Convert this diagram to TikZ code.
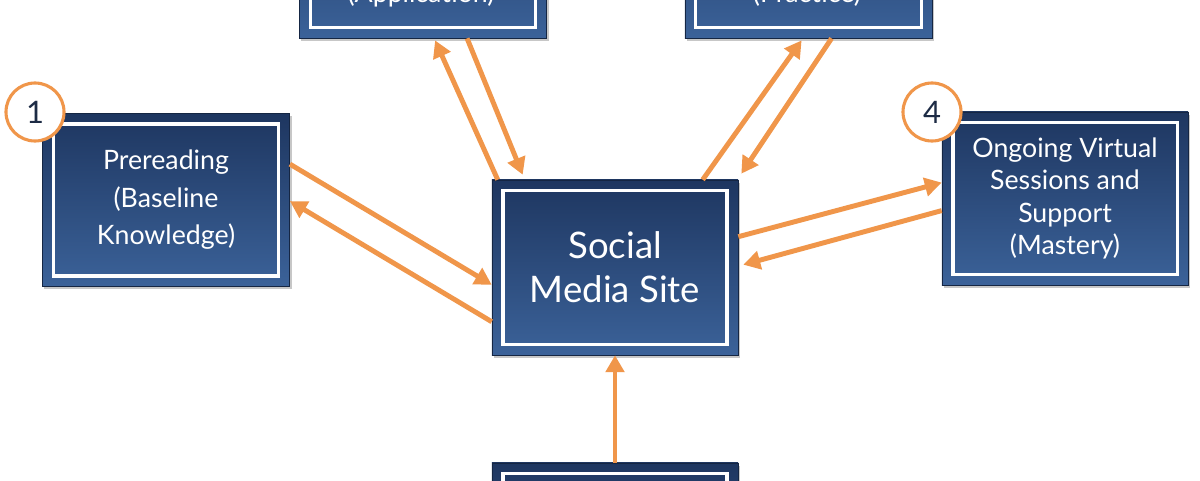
\documentclass[tikz,border=0pt]{standalone}
\usepackage{fontspec}
\setmainfont{Lato}
\usetikzlibrary{arrows.meta,shadows,calc}
\definecolor{navytop}{HTML}{1E3660}
\definecolor{navybot}{HTML}{3B6299}
\definecolor{orng}{HTML}{F0964A}
\definecolor{digit}{HTML}{1D2B45}
\begin{document}
\begin{tikzpicture}[x=0.025cm,y=-0.025cm,
  box/.style={rectangle, minimum width=6.18cm, minimum height=4.33cm, inner sep=0pt,
    top color=navytop, bottom color=navybot, draw=navytop!70!black, line width=0.4pt,
    drop shadow={shadow xshift=1.5pt,shadow yshift=-2pt,opacity=0.22,fill=black},
    path picture={\draw[white,line width=2.2pt]
      ([xshift=0.275cm,yshift=-0.265cm]path picture bounding box.north west) rectangle
      ([xshift=-0.275cm,yshift=0.265cm]path picture bounding box.south east);},
    text=white, align=center, font=\fontsize{19}{26.7}\selectfont},
  boxtext/.style={text=white, font=\fontsize{19}{26.7}\selectfont, inner sep=0pt},
  num/.style={circle, draw=orng, line width=2.2pt, fill=white, minimum size=1.45cm,
    inner sep=0pt, text=digit, font=\fontsize{22}{26}\selectfont},
  link/.style={draw=orng, line width=3.5pt, -{Triangle[length=12pt,width=13pt]}}]
\useasboundingbox (0,0) rectangle (1200,480);
\fill[white] (0,0) rectangle (1200,480);
\clip (0,0) rectangle (1200,480);

% boxes
\node[box] (t2) at (423,-48.5) {};
\node[boxtext, anchor=base] (t2txt) at (421,2) {(Application)};
\node[box] (t3) at (808.5,-48.5) {};
\node[boxtext, anchor=base] (t3txt) at (807,2) {(Practice)};
\node[box] (b1) at (166,200) {Prereading\\(Baseline\\Knowledge)};
\node[box, minimum width=6.15cm, font=\fontsize{19}{23.2}\selectfont] (b4) at (1065,198.5)
  {Ongoing Virtual\\Sessions and\\Support\\(Mastery)};
\node[box, minimum width=6.15cm, minimum height=4.375cm, font=\fontsize{26}{31.3}\selectfont] (c) at (615,267.5)
  {Social\\Media Site};
\node[box, minimum width=6.15cm] (b5) at (615,549.5) {};

% numbers
\node[num] (n1) at (35,112) {1};
\node[num] (n4) at (932,112) {4};

% connectors
\draw[link] ($(b1.north east)+(0,51)$) -- ($(c.north west)+(0,105)$);
\draw[link] ($(c.north west)+(0,142)$) -- ($(b1.north east)+(0,88)$);
\draw[link] ($(c.north east)+(0,57)$) -- ($(b4.north west)+(0,71)$);
\draw[link] ($(b4.north west)+(0,99)$) -- ($(c.north east)+(5,85)$);
\draw[link] ($(c.north west)+(6,0)$) -- ($(t2.south west)+(136,2)$);
\draw[link] ($(t2.south west)+(168,0)$) -- ($(c.north west)+(31,-5)$);
\draw[link] ($(c.north west)+(211,0)$) -- ($(t3.south west)+(117,2)$);
\draw[link] ($(t3.south west)+(147,0)$) -- ($(c.north east)+(3,-6)$);
\draw[link] (b5.north) -- (c.south);
\end{tikzpicture}
\end{document}
